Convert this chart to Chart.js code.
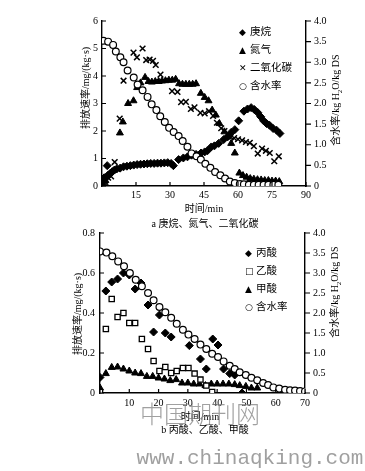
<!DOCTYPE html>
<html>
<head>
<meta charset="utf-8">
<script src="https://cdn.jsdelivr.net/npm/chart.js@4.4.1/dist/chart.umd.min.js"></script>
<style>
  body { margin: 0; background: #fff; }
  #wrap { position: relative; width: 365px; height: 471px; overflow: hidden;
          font-family: "Liberation Serif", "Noto Sans CJK SC", serif; color: #000; }
  canvas { position: absolute; left: 0; }
  .t { position: absolute; white-space: nowrap; font-size: 10px; transform: translate(-50%, -50%); }
  .rot { transform: translate(-50%, -50%) rotate(-90deg); }
  .leg { position: absolute; font-size: 10.5px; line-height: 17px; }
  .leg span { display: inline-block; width: 11px; font-family: "DejaVu Sans"; font-size: 9px; }
  .wm { position: absolute; color: rgba(120,120,120,0.7); white-space: nowrap; transform: translate(-50%, -50%); }
</style>
</head>
<body>
<div id="wrap">
  <canvas id="chartA" width="365" height="200" style="top:0"></canvas>
  <canvas id="chartB" width="365" height="195" style="top:215px"></canvas>

  <div class="t rot" style="left:84px; top:88px">排放速率/mg/(kg·s)</div>
  <div class="t rot" style="left:335px; top:100px">含水率/kg H<sub style="font-size:7px">2</sub>O/kg DS</div>
  <div class="t" style="left:204px; top:207px">时间/min</div>
  <div class="t" style="left:205px; top:222px">a 庚烷、氮气、二氧化碳</div>
  <div class="leg" style="left:239px; top:23px">
    <div><span>◆</span>庚烷</div>
    <div><span>▲</span>氮气</div>
    <div><span>✕</span>二氧化碳</div>
    <div><span>○</span>含水率</div>
  </div>

  <div class="t rot" style="left:76px; top:314px">排放速率/mg/(kg·s)</div>
  <div class="t rot" style="left:334px; top:292px">含水率/kg H<sub style="font-size:7px">2</sub>O/kg DS</div>
  <div class="t" style="left:200px; top:415px">时间/min</div>
  <div class="wm" style="left:200px; top:412px; font-size:24px; font-family:'Noto Sans CJK SC'; font-weight:300">中国期刊网</div>
  <div class="t" style="left:205px; top:428px">b 丙酸、乙酸、甲酸</div>
  <div class="leg" style="left:245px; top:244px">
    <div><span>◆</span>丙酸</div>
    <div><span>□</span>乙酸</div>
    <div><span>▲</span>甲酸</div>
    <div><span>○</span>含水率</div>
  </div>
  <div class="wm" style="left:250px; top:458px; font-size:21px; font-family:'Liberation Mono'">www.chinaqking.com</div>
</div>

<script>
// chart a: heptane, nitrogen, CO2, moisture
const heptaneT = [0.5, 1, 2.3, 2.5, 3.5, 4.5, 5.5, 6.5, 8, 9.5, 11, 12.5, 14, 15.5, 17, 18.5, 20, 21.5, 23, 24.5, 26, 27.5, 29, 30.5, 31.5, 33.8, 35.9, 37.7, 39.5, 41.5, 43.7, 45.3, 46.5, 48.2, 49.6, 51.5, 53.7, 55.4, 57, 58.6, 60.3, 62.6, 64.2, 65.8, 67.2, 68.7, 70, 71.3, 72.6, 73.9, 75.5, 77, 78.5];
const heptaneV = [0.25, 0.3, 0.74, 0.38, 0.45, 0.52, 0.58, 0.62, 0.65, 0.7, 0.72, 0.74, 0.76, 0.78, 0.79, 0.8, 0.81, 0.82, 0.82, 0.83, 0.83, 0.84, 0.85, 0.82, 0.74, 0.96, 1.02, 1.06, 1.12, 1.15, 1.2, 1.24, 1.28, 1.42, 1.46, 1.55, 1.69, 1.79, 1.95, 2.05, 2.37, 2.72, 2.8, 2.85, 2.78, 2.67, 2.52, 2.37, 2.27, 2.21, 2.09, 2.03, 1.91];

const nitrogenT = [0.5, 1.5, 7.9, 9.2, 11.5, 13.9, 15.5, 17, 19, 20.5, 22, 23.5, 25, 26.5, 28, 29.5, 31, 32.5, 34, 35.5, 37, 38.5, 40, 41.5, 43.6, 45.3, 47, 48.6, 50.2, 51.8, 54, 55.4, 57, 58.6, 60.6, 62.2, 63.8, 65.4, 67, 68.6, 70.2, 71.8, 73.4, 75, 76.6, 78.2];
const nitrogenV = [0.12, 0.2, 1.93, 2.33, 3.0, 3.1, 3.58, 3.75, 3.95, 3.8, 3.78, 3.8, 3.8, 3.82, 3.83, 3.85, 3.85, 3.88, 3.72, 3.7, 3.7, 3.7, 3.7, 3.72, 3.37, 3.22, 3.1, 2.76, 2.58, 2.27, 1.97, 1.79, 1.55, 1.2, 0.47, 0.38, 0.32, 0.27, 0.25, 0.23, 0.22, 0.2, 0.2, 0.18, 0.18, 0.16];

const co2T = [0.5, 1.5, 2.7, 4, 5.6, 7.8, 9.5, 13.9, 15.4, 17.9, 19.5, 21, 22.5, 23.7, 25.8, 30.9, 33.3, 34.9, 37, 39.2, 40.8, 43.4, 45.3, 47.2, 49, 50.7, 52.6, 54, 55.4, 56.8, 58.3, 60, 61.8, 63.5, 65.2, 67, 68.7, 70.6, 72.3, 74, 76, 78];
const co2V = [0.08, 0.15, 0.3, 0.35, 0.87, 2.45, 3.83, 4.85, 4.68, 5.0, 4.58, 4.6, 4.55, 4.4, 4.05, 3.45, 3.42, 3.05, 3.06, 2.8, 2.86, 2.66, 2.64, 2.72, 2.55, 2.3, 2.1, 2.0, 1.88, 1.78, 1.74, 1.7, 1.66, 1.6, 1.57, 1.45, 1.18, 1.36, 1.28, 1.2, 0.9, 1.08];

const moistAT = [0.6, 2.7, 4.9, 6.1, 8.1, 9.5, 11.3, 14.0, 15.7, 17.9, 20.1, 21.9, 24.0, 25.7, 27.7, 29.6, 31.6, 33.8, 35.6, 37.7, 39.5, 41.7, 43.6, 45.6, 47.8, 49.9, 52.2, 54.3, 56.4, 58.6, 60.8, 62.6, 64.8, 67, 69.1, 71.3, 73.4, 75.6, 77.8];
const moistAV = [3.52, 3.5, 3.42, 3.26, 3.12, 3.0, 2.8, 2.63, 2.46, 2.32, 2.16, 1.98, 1.84, 1.69, 1.55, 1.41, 1.31, 1.21, 1.09, 0.95, 0.79, 0.72, 0.64, 0.54, 0.44, 0.34, 0.26, 0.18, 0.11, 0.07, 0.05, 0.04, 0.03, 0.03, 0.03, 0.03, 0.03, 0.03, 0.03];

// chart b: propionic, acetic, formic acid, moisture
const propT = [0, 2, 4, 6, 8, 10, 12, 14, 16.4, 18.3, 20.3, 22.3, 24.3, 30.5, 34.3, 36.3, 38.5, 40.3, 42.2, 44.3, 46, 48.5];
const propV = [0.078, 0.51, 0.555, 0.57, 0.6, 0.59, 0.52, 0.55, 0.44, 0.305, 0.39, 0.3, 0.28, 0.237, 0.17, 0.12, 0.27, 0.24, 0.12, 0.097, 0.09, 0.0];

const aceticT = [0, 2, 4, 6, 8, 10, 12, 14.3, 16.4, 18.3, 20.3, 22.3, 24.3, 26.2, 28.3, 30.2, 32.3, 34.3, 36.3, 38.3];
const aceticV = [0.005, 0.32, 0.47, 0.38, 0.4, 0.35, 0.35, 0.27, 0.22, 0.16, 0.11, 0.13, 0.1, 0.11, 0.125, 0.125, 0.097, 0.067, 0.037, 0.005];

const formicT = [0, 2, 4, 6, 8, 10, 12, 14, 16, 18, 20, 22, 24, 26, 28, 30, 32, 34, 36, 38, 40, 42, 44, 46, 47.7, 49.8, 51.7, 53.7];
const formicV = [0.025, 0.097, 0.128, 0.13, 0.12, 0.11, 0.1, 0.097, 0.083, 0.083, 0.075, 0.07, 0.062, 0.067, 0.05, 0.05, 0.045, 0.045, 0.037, 0.045, 0.045, 0.045, 0.045, 0.042, 0.037, 0.033, 0.025, 0.025];

const moistBT = [0, 2.2, 4.2, 6.2, 8.2, 10.2, 12.2, 14.3, 16.4, 18.3, 20.3, 22.3, 24.3, 26.2, 28.3, 30.2, 32.3, 34.3, 36.3, 38.3, 40.3, 42.2, 44.3, 46, 47.7, 49.8, 51.7, 53.7, 55.7, 57.4, 59.2, 61.2, 63.2, 64.9, 66.6, 68.3, 70];
const moistBV = [3.54, 3.51, 3.42, 3.29, 3.17, 3.0, 2.83, 2.67, 2.5, 2.32, 2.15, 2.02, 1.88, 1.73, 1.58, 1.46, 1.35, 1.21, 1.1, 0.98, 0.9, 0.79, 0.68, 0.6, 0.52, 0.45, 0.38, 0.32, 0.25, 0.2, 0.14, 0.11, 0.08, 0.07, 0.06, 0.05, 0.04];

const pts = (t, v) => t.map((x, i) => ({ x: x, y: v[i] }));
const fontTick = { family: 'Liberation Serif', size: 10 };

// short tick marks drawn by hand: inward on left/bottom, outward on right
const tickMarks = {
    id: 'tickMarks',
    afterDraw: chart => {
        const ctx = chart.ctx;
        const a = chart.chartArea;
        ctx.save();
        ctx.strokeStyle = '#000';
        ctx.lineWidth = 1.2;
        ctx.beginPath();
        chart.scales.x.ticks.forEach((t, i) => {
            const px = chart.scales.x.getPixelForTick(i);
            ctx.moveTo(px, a.bottom); ctx.lineTo(px, a.bottom - 4);
        });
        chart.scales.y.ticks.forEach((t, i) => {
            const py = chart.scales.y.getPixelForTick(i);
            ctx.moveTo(a.left, py); ctx.lineTo(a.left + 4, py);
        });
        chart.scales.y1.ticks.forEach((t, i) => {
            const py = chart.scales.y1.getPixelForTick(i);
            ctx.moveTo(a.right, py); ctx.lineTo(a.right + 5, py);
        });
        ctx.stroke();
        ctx.restore();
    }
};

function makeChart(id, datasets, opt) {
    return new Chart(document.getElementById(id).getContext('2d'), {
        type: 'scatter',
        plugins: [tickMarks],
        data: { datasets: datasets },
        options: {
            responsive: false,
            animation: false,
            devicePixelRatio: 1,
            layout: { padding: { top: opt.padTop, left: 0, right: 0, bottom: 0 } },
            plugins: { legend: { display: false }, tooltip: { enabled: false } },
            scales: {
                x: {
                    type: 'linear', min: 0, max: opt.xMax,
                    afterFit: s => { s.height = opt.xHeight; },
                    grid: { display: false, drawTicks: false },
                    border: { color: '#000', width: 1.4 },
                    ticks: { stepSize: opt.xStep, padding: opt.xPad, color: '#000', font: fontTick,
                             maxRotation: 0, callback: v => v === 0 ? '' : v }
                },
                y: {
                    position: 'left', min: 0, max: opt.yMax,
                    afterFit: s => { s.width = opt.leftW; },
                    grid: { display: false, drawTicks: false },
                    border: { color: '#000', width: 1.4 },
                    ticks: { stepSize: opt.yStep, padding: opt.yPad, color: '#000', font: fontTick,
                             callback: opt.yFmt }
                },
                y1: {
                    position: 'right', min: 0, max: 4,
                    afterFit: s => { s.width = opt.rightW; },
                    grid: { display: false, drawTicks: false },
                    border: { color: '#000', width: 1.4 },
                    ticks: { stepSize: 0.5, padding: 8, color: '#000', font: fontTick,
                             callback: v => v === 0 ? '0' : v.toFixed(1) }
                }
            }
        }
    });
}

makeChart('chartA', [
    { label: '含水率', data: pts(moistAT, moistAV), yAxisID: 'y1', pointStyle: 'circle',
      pointRadius: 3.4, backgroundColor: '#fff', borderColor: '#000', borderWidth: 1.2 },
    { label: '二氧化碳', data: pts(co2T, co2V), yAxisID: 'y', pointStyle: 'crossRot',
      pointRadius: 4, borderColor: '#000', borderWidth: 1.5 },
    { label: '氮气', data: pts(nitrogenT, nitrogenV), yAxisID: 'y', pointStyle: 'triangle',
      pointRadius: 4, backgroundColor: '#000', borderColor: '#000', borderWidth: 1 },
    { label: '庚烷', data: pts(heptaneT, heptaneV), yAxisID: 'y', pointStyle: 'rectRot',
      pointRadius: 4, backgroundColor: '#000', borderColor: '#000', borderWidth: 1 }
], { padTop: 21, xMax: 90, xStep: 15, xHeight: 14, xPad: 3, yMax: 6, yStep: 1, yPad: 4,
     leftW: 102, rightW: 59, yFmt: v => v });

makeChart('chartB', [
    { label: '含水率', data: pts(moistBT, moistBV), yAxisID: 'y1', pointStyle: 'circle',
      pointRadius: 3.4, backgroundColor: '#fff', borderColor: '#000', borderWidth: 1.2 },
    { label: '乙酸', data: pts(aceticT, aceticV), yAxisID: 'y', pointStyle: 'rect',
      pointRadius: 3.7, backgroundColor: '#fff', borderColor: '#000', borderWidth: 1.3 },
    { label: '甲酸', data: pts(formicT, formicV), yAxisID: 'y', pointStyle: 'triangle',
      pointRadius: 4, backgroundColor: '#000', borderColor: '#000', borderWidth: 1 },
    { label: '丙酸', data: pts(propT, propV), yAxisID: 'y', pointStyle: 'rectRot',
      pointRadius: 4, backgroundColor: '#000', borderColor: '#000', borderWidth: 1 }
], { padTop: 18, xMax: 70, xStep: 10, xHeight: 17, xPad: 4, yMax: 0.8, yStep: 0.2, yPad: 5,
     leftW: 100, rightW: 60, yFmt: v => v === 0 ? '0' : v.toFixed(1) });
</script>
</body>
</html>
